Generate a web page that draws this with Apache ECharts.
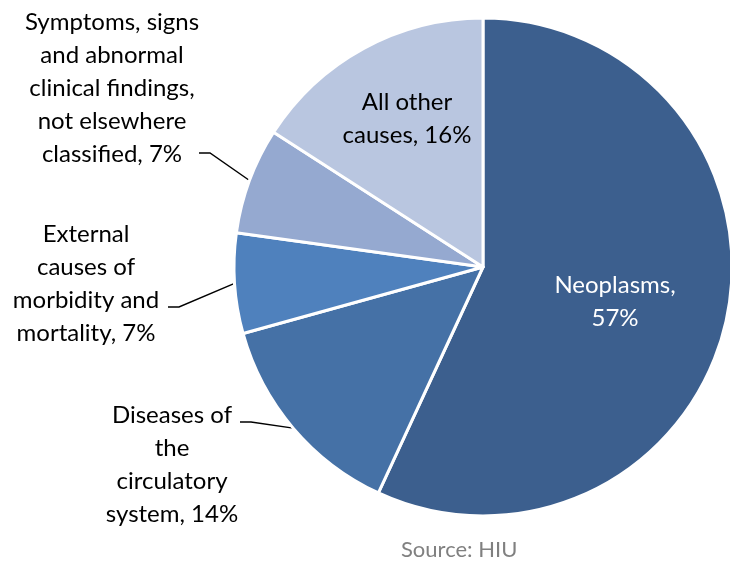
<!DOCTYPE html>
<html><head><meta charset="utf-8">
<script src="https://cdn.jsdelivr.net/npm/echarts@6/dist/echarts.min.js"></script>
<style>html,body{margin:0;padding:0;background:#fff}#c{width:730px;height:567px}</style>
</head><body><div id="c"></div>
<script>
const categories = ["Neoplasms", "Diseases of\nthe\ncirculatory\nsystem", "External\ncauses of\nmorbidity and\nmortality", "Symptoms, signs\nand abnormal\nclinical findings,\nnot elsewhere\nclassified", "All other\ncauses"];
const values = [56.9, 13.8, 6.5, 6.9, 15.9];
const percentLabels = ["57%", "14%", "7%", "7%", "16%"];
const colors = ["#3C5F8E", "#4571A6", "#4F81BD", "#95A9D0", "#B9C6E0"];
// label anchor positions (px), leader-line text-end anchors, and text color
const labelPos = [[615, 302], [172, 465], [86, 284], [112, 88], [407, 119]];
const leaderEnd = [null, [240, 422], [168, 307], [199, 153], null];
const labelColor = ["#ffffff", "#000000", "#000000", "#000000", "#000000"];

const chart = echarts.init(document.getElementById('c'));
chart.setOption({
  animation: false,
  graphic: [{type: 'text', left: 401, top: 539, style: {text: 'Source: HIU', fill: '#808080', font: '22px Lato'}}],
  series: [{
    type: 'pie',
    center: [483, 267],
    radius: 249,
    startAngle: 90,
    clockwise: true,
    avoidLabelOverlap: false,
    itemStyle: {borderColor: '#fff', borderWidth: 3},
    labelLine: {show: true, length: 10, length2: 10, lineStyle: {color: '#000', width: 1.4}},
    label: {fontFamily: 'Lato', fontSize: 24, lineHeight: 33, align: 'center'},
    labelLayout: function (p) {
      const i = p.dataIndex;
      const out = {x: labelPos[i][0], y: labelPos[i][1], align: 'center', verticalAlign: 'middle'};
      if (leaderEnd[i] && p.labelLinePoints && p.labelLinePoints.length) {
        const s = p.labelLinePoints[0];
        const e = leaderEnd[i];
        out.labelLinePoints = [[s[0], s[1]], [e[0] + 11, e[1]], [e[0], e[1]]];
      }
      return out;
    },
    data: categories.map((c, i) => ({
      name: c,
      value: values[i],
      itemStyle: {color: colors[i]},
      label: {
        position: (i === 0 || i === 4) ? 'inside' : 'outside',
        color: labelColor[i],
        formatter: (i === 0 ? c + ',\n' : c + ', ') + percentLabels[i]
      },
      labelLine: {show: !(i === 0 || i === 4)}
    }))
  }]
});
</script></body></html>
